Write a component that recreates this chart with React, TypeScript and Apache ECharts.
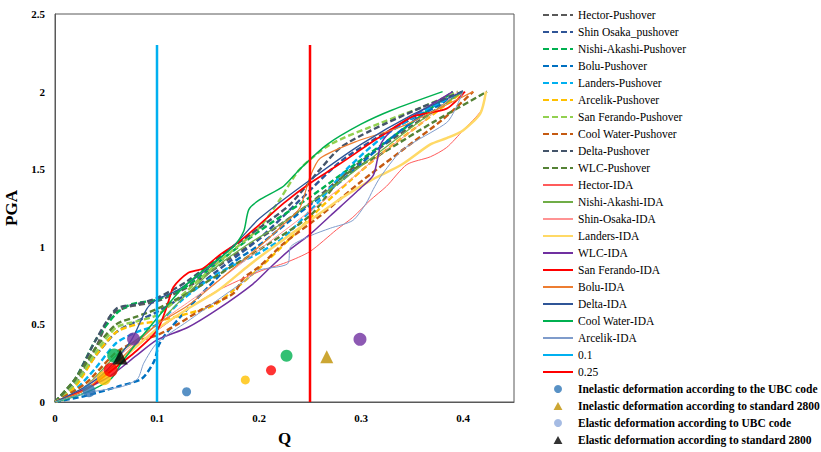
import React, { useEffect, useRef } from "react";
import * as echarts from "echarts";

type P = [number, number];

// ---- Pushover curves (Q, PGA) ----
const hectorPushover: P[] = [[0,0],[0.02,0.12],[0.04,0.35],[0.055,0.56],[0.07,0.61],[0.1,0.65],[0.13,0.74],[0.17,0.92],[0.2,1.05],[0.25,1.28],[0.3,1.55],[0.35,1.78],[0.4,2.0]];
const shinOsakaPushover: P[] = [[0,0],[0.02,0.12],[0.04,0.3],[0.06,0.45],[0.08,0.52],[0.1,0.58],[0.13,0.7],[0.17,0.9],[0.2,1.05],[0.24,1.3],[0.28,1.55],[0.32,1.72],[0.36,1.86],[0.4,2.0]];
const nishiAkashiPushover: P[] = [[0,0],[0.02,0.15],[0.04,0.4],[0.06,0.57],[0.075,0.63],[0.1,0.66],[0.13,0.75],[0.16,0.9],[0.2,1.1],[0.25,1.32],[0.3,1.56],[0.35,1.8],[0.39,2.0]];
const boluPushover: P[] = [[0,0],[0.03,0.04],[0.062,0.1],[0.085,0.15],[0.097,0.26],[0.102,0.37],[0.11,0.45],[0.13,0.6],[0.15,0.74],[0.175,0.9],[0.2,1.01],[0.24,1.22],[0.28,1.42],[0.32,1.65],[0.36,1.85],[0.4,2.0]];
const landersPushover: P[] = [[0,0],[0.02,0.08],[0.04,0.22],[0.06,0.38],[0.08,0.45],[0.1,0.5],[0.125,0.66],[0.16,0.83],[0.2,0.96],[0.224,1.06],[0.257,1.28],[0.286,1.5],[0.32,1.7],[0.36,1.87],[0.4,2.0]];
const arcelikPushover: P[] = [[0,0],[0.02,0.1],[0.04,0.3],[0.06,0.45],[0.08,0.5],[0.1,0.52],[0.13,0.57],[0.155,0.62],[0.175,0.72],[0.2,0.86],[0.23,1.05],[0.26,1.25],[0.29,1.43],[0.32,1.6],[0.36,1.8],[0.4,2.0]];
const sanFerandoPushover: P[] = [[0,0],[0.02,0.12],[0.04,0.32],[0.06,0.48],[0.08,0.52],[0.1,0.56],[0.13,0.72],[0.16,0.9],[0.2,1.12],[0.22,1.3],[0.24,1.5],[0.27,1.66],[0.32,1.8],[0.36,1.9],[0.395,2.0]];
const coolWaterPushover: P[] = [[0,0],[0.03,0.12],[0.06,0.32],[0.08,0.39],[0.1,0.43],[0.12,0.5],[0.145,0.6],[0.175,0.7],[0.185,0.8],[0.2,0.87],[0.224,1.02],[0.26,1.2],[0.3,1.42],[0.34,1.62],[0.38,1.82],[0.41,2.0]];
const deltaPushover: P[] = [[0,0],[0.02,0.15],[0.04,0.4],[0.06,0.6],[0.08,0.63],[0.1,0.67],[0.13,0.78],[0.17,0.98],[0.2,1.12],[0.23,1.27],[0.26,1.5],[0.28,1.64],[0.31,1.75],[0.36,1.9],[0.4,2.0]];
const wlcPushover: P[] = [[0,0],[0.02,0.15],[0.04,0.35],[0.06,0.5],[0.08,0.55],[0.1,0.6],[0.13,0.7],[0.17,0.86],[0.2,0.98],[0.25,1.2],[0.282,1.45],[0.32,1.6],[0.37,1.8],[0.4235,2.0]];

// ---- IDA curves (Q, PGA) ----
const hectorIDA: P[] = [[0,0],[0.03,0.08],[0.06,0.25],[0.1,0.46],[0.13,0.6],[0.16,0.72],[0.2,0.84],[0.227,0.9],[0.25,0.97],[0.276,1.11],[0.292,1.19],[0.309,1.3],[0.325,1.39],[0.345,1.53],[0.368,1.58],[0.384,1.64],[0.4,1.75],[0.418,1.88],[0.4225,2.0]];
const nishiAkashiIDA: P[] = [[0,0],[0.03,0.1],[0.06,0.3],[0.09,0.45],[0.1,0.5],[0.13,0.7],[0.16,0.88],[0.19,1.02],[0.22,1.14],[0.25,1.28],[0.28,1.42],[0.32,1.62],[0.36,1.82],[0.4,2.0]];
const shinOsakaIDA: P[] = [[0,0],[0.03,0.1],[0.06,0.28],[0.1,0.5],[0.13,0.64],[0.16,0.78],[0.2,0.98],[0.24,1.18],[0.28,1.38],[0.32,1.6],[0.36,1.8],[0.395,2.0]];
const landersIDA: P[] = [[0,0],[0.04,0.12],[0.07,0.3],[0.1,0.47],[0.13,0.6],[0.16,0.72],[0.19,0.88],[0.21,0.98],[0.25,1.17],[0.28,1.31],[0.31,1.43],[0.34,1.53],[0.368,1.66],[0.384,1.7],[0.4,1.75],[0.417,1.86],[0.4225,2.0]];
const wlcIDA: P[] = [[0,0],[0.05,0.15],[0.08,0.3],[0.1,0.4],[0.13,0.48],[0.16,0.6],[0.194,0.76],[0.21,0.86],[0.23,0.98],[0.25,1.08],[0.27,1.2],[0.3,1.38],[0.312,1.46],[0.316,1.56],[0.32,1.67],[0.33,1.75],[0.36,1.88],[0.39,2.0]];
const sanFerandoIDA: P[] = [[0,0],[0.03,0.08],[0.055,0.2],[0.08,0.33],[0.1,0.46],[0.11,0.62],[0.116,0.74],[0.13,0.83],[0.145,0.86],[0.16,0.94],[0.18,1.03],[0.2,1.14],[0.224,1.28],[0.25,1.41],[0.276,1.52],[0.319,1.71],[0.351,1.84],[0.384,1.89],[0.402,2.0]];
const boluIDA: P[] = [[0,0],[0.03,0.08],[0.06,0.25],[0.08,0.38],[0.1,0.5],[0.13,0.62],[0.16,0.78],[0.2,1.0],[0.225,1.15],[0.24,1.25],[0.25,1.45],[0.26,1.57],[0.296,1.68],[0.338,1.77],[0.37,1.87],[0.41,2.0]];
const deltaIDA: P[] = [[0,0],[0.03,0.1],[0.05,0.2],[0.075,0.4],[0.09,0.6],[0.1,0.66],[0.12,0.72],[0.15,0.86],[0.18,1.04],[0.2,1.18],[0.25,1.43],[0.3,1.66],[0.35,1.85],[0.4,2.0]];
const coolWaterIDA: P[] = [[0,0],[0.03,0.06],[0.055,0.15],[0.065,0.25],[0.08,0.38],[0.1,0.54],[0.123,0.72],[0.142,0.83],[0.175,1.0],[0.185,1.1],[0.19,1.24],[0.2,1.3],[0.224,1.39],[0.24,1.5],[0.267,1.66],[0.3,1.79],[0.33,1.88],[0.38,2.0]];
const arcelikIDA: P[] = [[0,0],[0.032,0.06],[0.066,0.1],[0.081,0.15],[0.087,0.25],[0.1,0.38],[0.13,0.52],[0.16,0.66],[0.19,0.8],[0.2,0.85],[0.228,0.89],[0.231,1.0],[0.25,1.07],[0.27,1.12],[0.292,1.17],[0.305,1.28],[0.312,1.37],[0.319,1.45],[0.338,1.61],[0.351,1.67],[0.384,1.8],[0.392,1.88],[0.4,2.0]];

// ---- limit lines ----
const line01: P[] = [[0.1,0],[0.1,2.3]];
const line025: P[] = [[0.25,0],[0.25,2.3]];

// ---- code points ----
const inelasticUBC: P[] = [[0.129,0.066],[0.1866,0.142],[0.2118,0.204],[0.227,0.298],[0.299,0.404]];
const inelasticUBCColors = ["#2E75B6","#FFC000","#FF0000","#00B050","#7030A0"];
const inelasticUBCSizes = [9,9,10,12,13];
const inelastic2800: P[] = [[0.2664,0.292]];
const elasticUBC: P[] = [[0.0333,0.073],[0.048,0.153],[0.0546,0.206],[0.058,0.3],[0.077,0.406]];
const elasticUBCColors = ["#2E75B6","#FFC000","#FF0000","#00B050","#7030A0"];
const elasticUBCSizes = [13,14,14,14,13];
const elastic2800: P[] = [[0.064,0.29]];

const xTicks = { min: 0, max: 0.45, interval: 0.1 };
const yTicks = { min: 0, max: 2.5, interval: 0.5 };

const FONT = "Liberation Serif, Times New Roman, serif";
const TRI_ICON = "path://M5,0L10,9L0,9Z";

const pushovers: [string, P[], string][] = [
  ["Hector-Pushover", hectorPushover, "#595959"],
  ["Shin Osaka_pushover", shinOsakaPushover, "#2F5597"],
  ["Nishi-Akashi-Pushover", nishiAkashiPushover, "#00B050"],
  ["Bolu-Pushover", boluPushover, "#0070C0"],
  ["Landers-Pushover", landersPushover, "#00B0F0"],
  ["Arcelik-Pushover", arcelikPushover, "#FFC000"],
  ["San Ferando-Pushover", sanFerandoPushover, "#92D050"],
  ["Cool Water-Pushover", coolWaterPushover, "#C55A11"],
  ["Delta-Pushover", deltaPushover, "#44546A"],
  ["WLC-Pushover", wlcPushover, "#548235"],
];
const idas: [string, P[], string, number][] = [
  ["Hector-IDA", hectorIDA, "#FF5B5B", 1],
  ["Nishi-Akashi-IDA", nishiAkashiIDA, "#70AD47", 1.3],
  ["Shin-Osaka-IDA", shinOsakaIDA, "#FF9393", 1],
  ["Landers-IDA", landersIDA, "#FFD966", 2.5],
  ["WLC-IDA", wlcIDA, "#7030A0", 1.5],
  ["San Ferando-IDA", sanFerandoIDA, "#FF0000", 1.8],
  ["Bolu-IDA", boluIDA, "#ED7D31", 1.2],
  ["Delta-IDA", deltaIDA, "#2F5597", 1.3],
  ["Cool Water-IDA", coolWaterIDA, "#00B050", 1.5],
  ["Arcelik-IDA", arcelikIDA, "#7F9CCB", 1],
];

export default function App() {
  const ref = useRef<HTMLDivElement>(null);
  useEffect(() => {
    if (!ref.current) return;
    const chart = echarts.init(ref.current, null, { renderer: "svg" });
    const series: any[] = [];
    pushovers.forEach(([name, data, color]) => {
      series.push({
        name, type: "line", data, smooth: 0.25, symbol: "none",
        lineStyle: { color, width: 2.4, type: [6, 3] }, itemStyle: { color },
      });
    });
    idas.forEach(([name, data, color, w]) => {
      series.push({
        name, type: "line", data, smooth: 0.25, symbol: "none",
        lineStyle: { color, width: w }, itemStyle: { color },
      });
    });
    series.push({ name: "0.1", type: "line", data: line01, symbol: "none", lineStyle: { color: "#00B0F0", width: 2.5 }, itemStyle: { color: "#00B0F0" } });
    series.push({ name: "0.25", type: "line", data: line025, symbol: "none", lineStyle: { color: "#FF0000", width: 2.5 }, itemStyle: { color: "#FF0000" } });
    series.push({
      name: "Inelastic deformation according to the UBC code", type: "scatter", symbol: "circle",
      itemStyle: { color: "#2E75B6" },
      data: inelasticUBC.map((v, i) => ({ value: v, symbolSize: inelasticUBCSizes[i], itemStyle: { color: inelasticUBCColors[i] } })),
      z: 5,
    });
    series.push({
      name: "Inelastic deformation according to standard 2800", type: "scatter", symbol: "triangle", symbolSize: 13,
      itemStyle: { color: "#BF9000" }, data: inelastic2800, z: 5,
    });
    series.push({
      name: "Elastic deformation according to UBC code", type: "scatter", symbol: "circle",
      itemStyle: { color: "#8FAADC" },
      data: elasticUBC.map((v, i) => ({ value: v, symbolSize: elasticUBCSizes[i], itemStyle: { color: elasticUBCColors[i] } })),
      z: 5,
    });
    series.push({
      name: "Elastic deformation according to standard 2800", type: "scatter", symbol: "triangle", symbolSize: 15,
      itemStyle: { color: "#000000" }, data: elastic2800, z: 6,
    });

    const legendData: any[] = series.map((s) =>
      s.type === "scatter"
        ? (s.symbol === "triangle"
            ? { name: s.name, icon: TRI_ICON, textStyle: { fontWeight: "bold" } }
            : { name: s.name, icon: "circle", textStyle: { fontWeight: "bold" } })
        : { name: s.name, itemStyle: { color: "rgba(0,0,0,0)", borderWidth: 0, opacity: 0 } }
    );

    chart.setOption({
      animation: false,
      textStyle: { fontFamily: FONT },
      grid: { left: 55, top: 14, right: 307, bottom: 50, show: true, borderColor: "#595959", borderWidth: 1, containLabel: false, outerBoundsMode: "none" },
      legend: {
        orient: "vertical", left: 542, top: 8, padding: 0, itemWidth: 30, itemHeight: 8, itemGap: 3,
        symbolKeepAspect: true,
        data: legendData,
        textStyle: { fontFamily: FONT, fontSize: 11.5, color: "#000", lineHeight: 14 },
        selectedMode: false,
      },
      xAxis: {
        type: "value", min: xTicks.min, max: xTicks.max, interval: xTicks.interval,
        name: "Q", nameLocation: "middle", nameGap: 28,
        nameTextStyle: { fontFamily: FONT, fontSize: 17, fontWeight: "bold", color: "#000" },
        axisLine: { show: true, lineStyle: { color: "#595959" } },
        axisTick: { show: false }, splitLine: { show: false },
        axisLabel: { showMaxLabel: false, fontFamily: FONT, fontSize: 11, fontWeight: "bold", color: "#000", margin: 10,
          formatter: (v: number) => String(Math.round(v * 10) / 10) },
      },
      yAxis: {
        type: "value", min: yTicks.min, max: yTicks.max, interval: yTicks.interval,
        name: "PGA", nameLocation: "middle", nameGap: 28, nameRotate: 90,
        nameTextStyle: { fontFamily: FONT, fontSize: 17, fontWeight: "bold", color: "#000" },
        axisLine: { show: true, lineStyle: { color: "#595959" } },
        axisTick: { show: false }, splitLine: { show: false },
        axisLabel: { fontFamily: FONT, fontSize: 11, fontWeight: "bold", color: "#000", margin: 10,
          formatter: (v: number) => String(Math.round(v * 10) / 10) },
      },
      series,
    });
    return () => chart.dispose();
  }, []);
  return <div ref={ref} style={{ position: "absolute", left: 0, top: 0, width: 821, height: 452, background: "#fff" }} />;
}
